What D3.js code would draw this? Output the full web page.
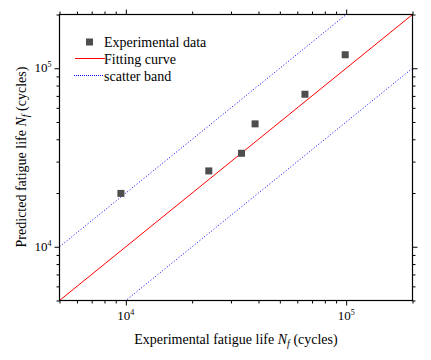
<!DOCTYPE html>
<html><head><meta charset="utf-8">
<script src="https://cdn.jsdelivr.net/npm/d3@7"></script>
<style>body{margin:0;background:#fff}svg{display:block}text{font-family:'Liberation Serif','Times New Roman',serif}</style>
</head><body><svg id="c" width="431" height="360"></svg>
<script>
const expLife = [9500, 23800, 33500, 38600, 65000, 99000];
const predLife = [19900, 26600, 33400, 48800, 71500, 119000];
const domain = [5000, 200000];
const bandFactors = [0.5, 2];
const majorTicks = [1e4, 1e5];
const minorTicks = [5000,6000,7000,8000,9000,20000,30000,40000,50000,60000,70000,80000,90000,200000];
const legendLabels = ["Experimental data", "Fitting curve", "scatter band"];

const svg = d3.select("#c");
const L=59.5, R=412.5, T=14.5, B=300.5;
const x = d3.scaleLog().domain(domain).range([L,R]);
const y = d3.scaleLog().domain(domain).range([B,T]);
const font = "'Liberation Serif','Times New Roman',serif";

const defs = svg.append("defs");
defs.append("clipPath").attr("id","clip").append("rect").attr("x",L).attr("y",T).attr("width",R-L).attr("height",B-T);

const g = svg.append("g").attr("clip-path","url(#clip)");
const line = d3.line().x(d=>x(d[0])).y(d=>y(d[1]));
g.append("path").datum(domain.map(v=>[v,v])).attr("d",line).attr("stroke","#ff0000").attr("stroke-width",1).attr("fill","none");
bandFactors.forEach(f=>{
  g.append("path").datum([[domain[0]/4,domain[0]/4*f],[domain[1]*4,domain[1]*4*f]]).attr("d",line)
   .attr("stroke","#0000ff").attr("stroke-width",1).attr("stroke-dasharray","1,2").attr("fill","none");
});

const pts = expLife.map((v,i)=>[v,predLife[i]]);
svg.append("g").selectAll("rect").data(pts).join("rect")
  .attr("x",d=>x(d[0])-3.5).attr("y",d=>y(d[1])-3.5).attr("width",7).attr("height",7).attr("fill","#4d4d4d");

function styleAxis(sel){sel.select(".domain").remove();sel.selectAll("line").attr("stroke","#000");sel.selectAll("text").remove();}
[["bottom",d3.axisBottom(x),B],["top",d3.axisTop(x),T]].forEach(([n,ax,pos])=>{
  svg.append("g").attr("transform",`translate(0,${pos})`).call(ax.tickValues(minorTicks).tickSize(3)).call(styleAxis);
  svg.append("g").attr("transform",`translate(0,${pos})`).call(ax.tickValues(majorTicks).tickSize(5)).call(styleAxis);
});
[["left",d3.axisLeft(y),L],["right",d3.axisRight(y),R]].forEach(([n,ax,pos])=>{
  svg.append("g").attr("transform",`translate(${pos},0)`).call(ax.tickValues(minorTicks).tickSize(3)).call(styleAxis);
  svg.append("g").attr("transform",`translate(${pos},0)`).call(ax.tickValues(majorTicks).tickSize(5)).call(styleAxis);
});
svg.append("rect").attr("x",L).attr("y",T).attr("width",R-L).attr("height",B-T).attr("fill","none").attr("stroke","#000").attr("stroke-width",1.2);

// tick labels
majorTicks.forEach(v=>{
  const e = Math.round(Math.log10(v));
  const tx = svg.append("text").attr("x",x(v)).attr("y",B+19).attr("text-anchor","middle").style("font-family",font).attr("font-size",13);
  tx.append("tspan").text("10");
  tx.append("tspan").attr("dy",-5).attr("font-size",8).text(e);
  const ty = svg.append("text").attr("x",L-8).attr("y",y(v)+4).attr("text-anchor","end").style("font-family",font).attr("font-size",13);
  ty.append("tspan").text("10");
  ty.append("tspan").attr("dy",-5).attr("font-size",8).text(e);
});

// axis titles
const xt = svg.append("text").attr("x",236).attr("y",344).attr("text-anchor","middle").style("font-family",font).attr("font-size",14);
xt.append("tspan").text("Experimental fatigue life ");
xt.append("tspan").attr("font-style","italic").text("N");
xt.append("tspan").attr("font-style","italic").attr("font-size",10).attr("dy",3).text("f");
xt.append("tspan").attr("dy",-3).text(" (cycles)");

const yt = svg.append("text").attr("transform","translate(26,157) rotate(-90)").attr("text-anchor","middle").style("font-family",font).attr("font-size",14);
yt.append("tspan").text("Predicted  fatigue life ");
yt.append("tspan").attr("font-style","italic").text("N");
yt.append("tspan").attr("font-style","italic").attr("font-size",10).attr("dy",3).text("f");
yt.append("tspan").attr("dy",-3).text(" (cycles)");

// legend
const lg = svg.append("g");
lg.append("rect").attr("x",86).attr("y",38.5).attr("width",7).attr("height",7).attr("fill","#4d4d4d");
lg.append("line").attr("x1",75).attr("x2",105).attr("y1",58.5).attr("y2",58.5).attr("stroke","#ff0000");
lg.append("line").attr("x1",74).attr("x2",104).attr("y1",75.5).attr("y2",75.5).attr("stroke","#0000ff").attr("stroke-dasharray","1,1");
legendLabels.forEach((t,i)=>{
  lg.append("text").attr("x",104).attr("y",47+i*17).style("font-family",font).attr("font-size",14).text(t);
});
</script></body></html>
